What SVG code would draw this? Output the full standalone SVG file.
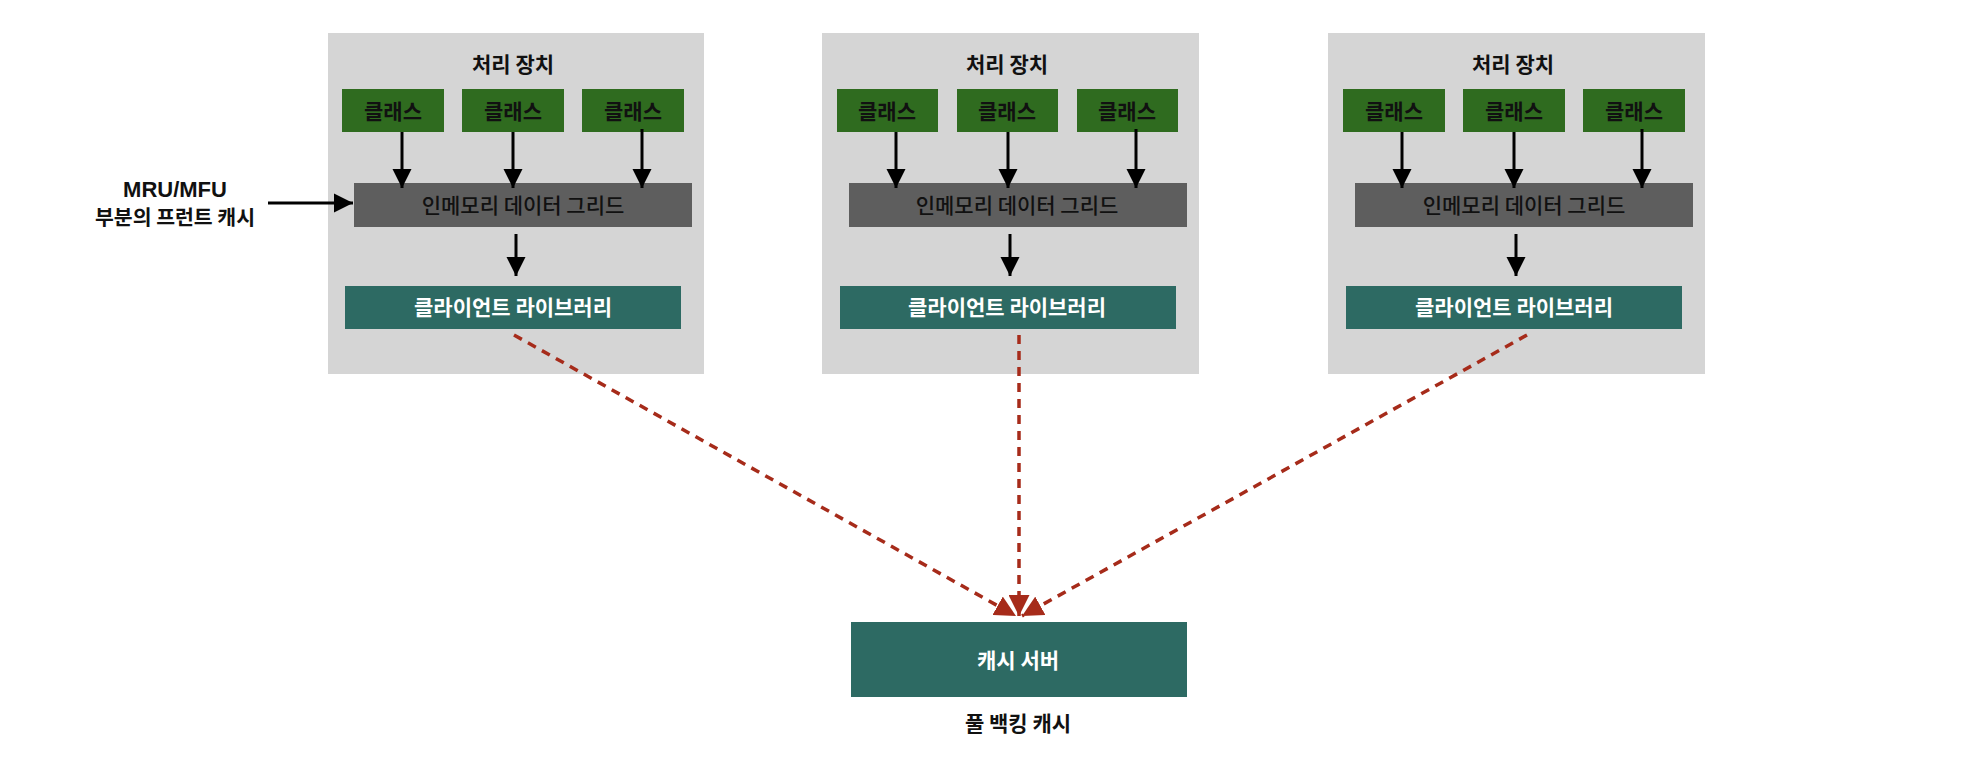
<svg xmlns="http://www.w3.org/2000/svg" width="1988" height="768" viewBox="0 0 1988 768">
<style>
text{font-family:"Noto Sans CJK KR","Liberation Sans",sans-serif;text-anchor:middle;dominant-baseline:central}
.panel{fill:#d5d5d5}
.cls{fill:#2f6b1f}
.grid{fill:#5e5e5e}
.teal{fill:#2d6a63}
.t-title{font-size:21px;font-weight:700;fill:#111}
.t-cls{font-size:21px;font-weight:700;fill:#111}
.t-grid{font-size:21px;font-weight:500;fill:#111}
.t-lib{font-size:21px;font-weight:700;fill:#fff}
.t-srv{font-size:21px;font-weight:700;fill:#fff}
.blk{stroke:#000;stroke-width:3;fill:none}
.red{stroke:#a62b1a;stroke-width:3.5;fill:none;stroke-dasharray:9 7}
</style>
<defs>
<marker id="ab" viewBox="0 0 10 10" refX="10" refY="5" markerWidth="6.5" markerHeight="6.5" orient="auto" markerUnits="strokeWidth">
<path d="M0,0 L10,5 L0,10 z" fill="#000"/>
</marker>
<marker id="ar" viewBox="0 0 10 10" refX="10" refY="5" markerWidth="6" markerHeight="6" orient="auto" markerUnits="strokeWidth">
<path d="M0,0 L10,5 L0,10 z" fill="#a62b1a"/>
</marker>
</defs>

<g id="unit1">
<rect class="panel" x="328" y="33" width="376" height="341"/>
<text class="t-title" x="513" y="63">처리 장치</text>
<g id="unit1-class1"><rect class="cls" x="342" y="89" width="102" height="43"/><text class="t-cls" x="393" y="110">클래스</text></g>
<g id="unit1-class2"><rect class="cls" x="462" y="89" width="102" height="43"/><text class="t-cls" x="513" y="110">클래스</text></g>
<g id="unit1-class3"><rect class="cls" x="582" y="89" width="102" height="43"/><text class="t-cls" x="633" y="110">클래스</text></g>
<g id="unit1-grid"><rect class="grid" x="354" y="183" width="338" height="44"/><text class="t-grid" x="523" y="204">인메모리 데이터 그리드</text></g>
<g id="unit1-lib"><rect class="teal" x="345" y="286" width="336" height="43"/><text class="t-lib" x="513" y="306">클라이언트 라이브러리</text></g>
</g>

<g id="unit2">
<rect class="panel" x="822" y="33" width="377" height="341"/>
<text class="t-title" x="1007" y="63">처리 장치</text>
<g id="unit2-class1"><rect class="cls" x="837" y="89" width="101" height="43"/><text class="t-cls" x="887" y="110">클래스</text></g>
<g id="unit2-class2"><rect class="cls" x="957" y="89" width="101" height="43"/><text class="t-cls" x="1007" y="110">클래스</text></g>
<g id="unit2-class3"><rect class="cls" x="1077" y="89" width="101" height="43"/><text class="t-cls" x="1127" y="110">클래스</text></g>
<g id="unit2-grid"><rect class="grid" x="849" y="183" width="338" height="44"/><text class="t-grid" x="1017" y="204">인메모리 데이터 그리드</text></g>
<g id="unit2-lib"><rect class="teal" x="840" y="286" width="336" height="43"/><text class="t-lib" x="1007" y="306">클라이언트 라이브러리</text></g>
</g>

<g id="unit3">
<rect class="panel" x="1328" y="33" width="377" height="341"/>
<text class="t-title" x="1513" y="63">처리 장치</text>
<g id="unit3-class1"><rect class="cls" x="1343" y="89" width="102" height="43"/><text class="t-cls" x="1394" y="110">클래스</text></g>
<g id="unit3-class2"><rect class="cls" x="1463" y="89" width="102" height="43"/><text class="t-cls" x="1514" y="110">클래스</text></g>
<g id="unit3-class3"><rect class="cls" x="1583" y="89" width="102" height="43"/><text class="t-cls" x="1634" y="110">클래스</text></g>
<g id="unit3-grid"><rect class="grid" x="1355" y="183" width="338" height="44"/><text class="t-grid" x="1524" y="204">인메모리 데이터 그리드</text></g>
<g id="unit3-lib"><rect class="teal" x="1346" y="286" width="336" height="43"/><text class="t-lib" x="1514" y="306">클라이언트 라이브러리</text></g>
</g>

<g id="front-cache-label">
<text class="t-title" x="175" y="189" style="font-family:'Liberation Sans','Noto Sans CJK KR',sans-serif;font-size:22px">MRU/MFU</text>
<text class="t-title" x="175" y="216" style="font-size:20.5px">부분의 프런트 캐시</text>
</g>

<g id="cache-server">
<rect class="teal" x="851" y="622" width="336" height="75"/>
<text class="t-srv" x="1018" y="659">캐시 서버</text>
<text class="t-title" x="1018" y="722">풀 백킹 캐시</text>
</g>

<g id="connectors">
<line class="blk" x1="268" y1="203" x2="353" y2="203" marker-end="url(#ab)"/>
<line class="blk" x1="402" y1="132" x2="402" y2="188" marker-end="url(#ab)"/>
<line class="blk" x1="513" y1="132" x2="513" y2="188" marker-end="url(#ab)"/>
<line class="blk" x1="642" y1="129" x2="642" y2="188" marker-end="url(#ab)"/>
<line class="blk" x1="516" y1="234" x2="516" y2="276" marker-end="url(#ab)"/>
<line class="blk" x1="896" y1="132" x2="896" y2="188" marker-end="url(#ab)"/>
<line class="blk" x1="1008" y1="132" x2="1008" y2="188" marker-end="url(#ab)"/>
<line class="blk" x1="1136" y1="129" x2="1136" y2="188" marker-end="url(#ab)"/>
<line class="blk" x1="1010" y1="234" x2="1010" y2="276" marker-end="url(#ab)"/>
<line class="blk" x1="1402" y1="132" x2="1402" y2="188" marker-end="url(#ab)"/>
<line class="blk" x1="1514" y1="132" x2="1514" y2="188" marker-end="url(#ab)"/>
<line class="blk" x1="1642" y1="129" x2="1642" y2="188" marker-end="url(#ab)"/>
<line class="blk" x1="1516" y1="234" x2="1516" y2="276" marker-end="url(#ab)"/>
<line class="red" x1="514" y1="335" x2="1016" y2="616" marker-end="url(#ar)"/>
<line class="red" x1="1527" y1="335" x2="1022" y2="616" marker-end="url(#ar)"/>
<line class="red" x1="1019" y1="335" x2="1019" y2="616" marker-end="url(#ar)"/>
</g>
</svg>
